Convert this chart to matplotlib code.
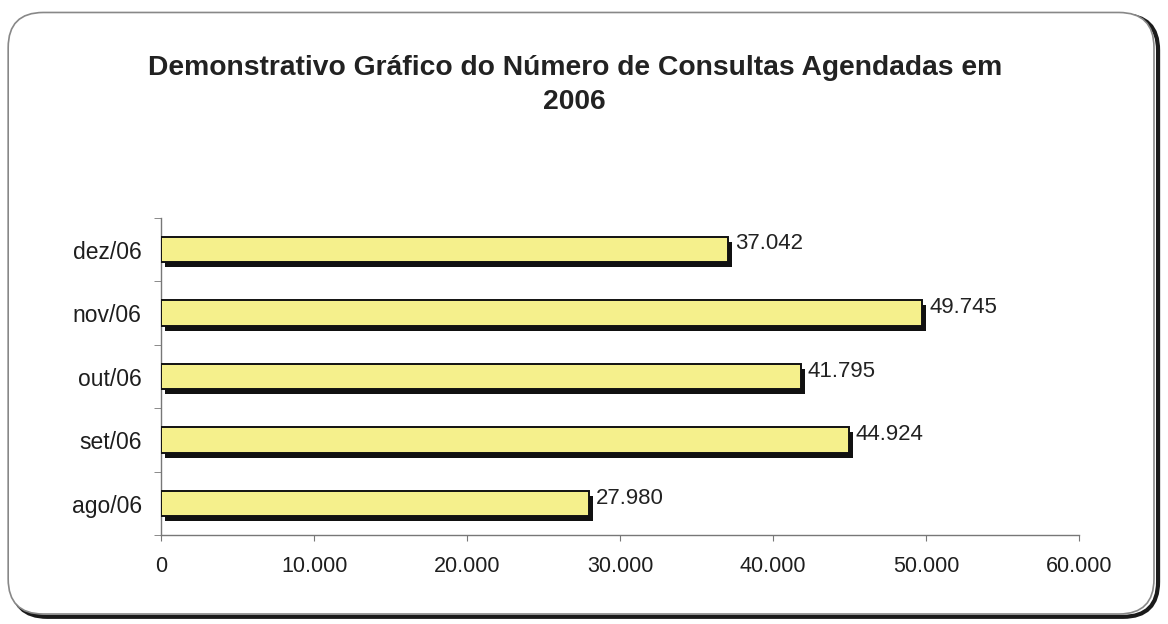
import matplotlib
matplotlib.use("Agg")
import matplotlib.pyplot as plt
from matplotlib.patches import FancyBboxPatch
import matplotlib.patheffects as pe
from matplotlib.ticker import FuncFormatter

categories = ["ago/06", "set/06", "out/06", "nov/06", "dez/06"]
values = [27980, 44924, 41795, 49745, 37042]
xticks = [0, 10000, 20000, 30000, 40000, 50000, 60000]
title = "Demonstrativo Gráfico do Número de Consultas Agendadas em\n2006"

def fmt(v):
    return f"{int(v):,}".replace(",", ".")

plt.rcParams['font.family'] = ['Liberation Sans', 'DejaVu Sans']

fig = plt.figure(figsize=(11.68, 6.24), dpi=100)
fig.patch.set_facecolor('white')

# rounded frame with shadow
shadow = FancyBboxPatch((0.0105, 0.0115), 0.981, 0.964, boxstyle="round,pad=0,rounding_size=0.03",
                        transform=fig.transFigure, facecolor='none', edgecolor='#1a1a1a',
                        linewidth=3, zorder=-2, mutation_aspect=1168/624)
frame = FancyBboxPatch((0.007, 0.016), 0.981, 0.964, boxstyle="round,pad=0,rounding_size=0.03",
                       transform=fig.transFigure, facecolor='white', edgecolor='#888888',
                       linewidth=1.2, zorder=-1, mutation_aspect=1168/624)
fig.patches.extend([shadow, frame])

ax = fig.add_axes([0.138, 0.142, 0.786, 0.509])
ax.set_facecolor('none')
ax.set_zorder(2)
ypos = list(range(len(categories)))
bars = ax.barh(ypos, values, height=0.40, color='#F5F08C', edgecolor='#111111', linewidth=1.4, zorder=3)
for b in bars:
    b.set_path_effects([pe.SimplePatchShadow(offset=(3, -3.5), shadow_rgbFace='#111111', alpha=1), pe.Normal()])

for y, v in zip(ypos, values):
    ax.annotate(fmt(v), (v, y), xytext=(5, 4), textcoords='offset points',
                ha='left', va='center', fontsize=16, color='#222222')

ax.set_xlim(0, 60000)
ax.set_ylim(-0.5, len(categories) - 0.5)
ax.set_xticks(xticks)
ax.xaxis.set_major_formatter(FuncFormatter(lambda v, p: fmt(v)))
ax.set_yticks(ypos)
ax.set_yticklabels(categories)
ax.set_yticks([i + 0.5 for i in range(-1, len(categories))], minor=True)
ax.tick_params(axis='y', which='major', length=0, labelsize=16.5, pad=14, labelcolor='#1e1e1e')
ax.tick_params(axis='y', which='minor', length=5, color='#777777')
ax.tick_params(axis='x', length=4, color='#777777', labelsize=15.5, pad=11, labelcolor='#1e1e1e')
for s in ['top', 'right']:
    ax.spines[s].set_visible(False)
for s in ['left', 'bottom']:
    ax.spines[s].set_color('#777777')
    ax.spines[s].set_linewidth(1.0)

fig.text(0.492, 0.864, title, ha='center', va='center', fontsize=20.3, fontweight='bold',
         color='#222222', linespacing=1.4)

fig.savefig("out.png", dpi=100)
